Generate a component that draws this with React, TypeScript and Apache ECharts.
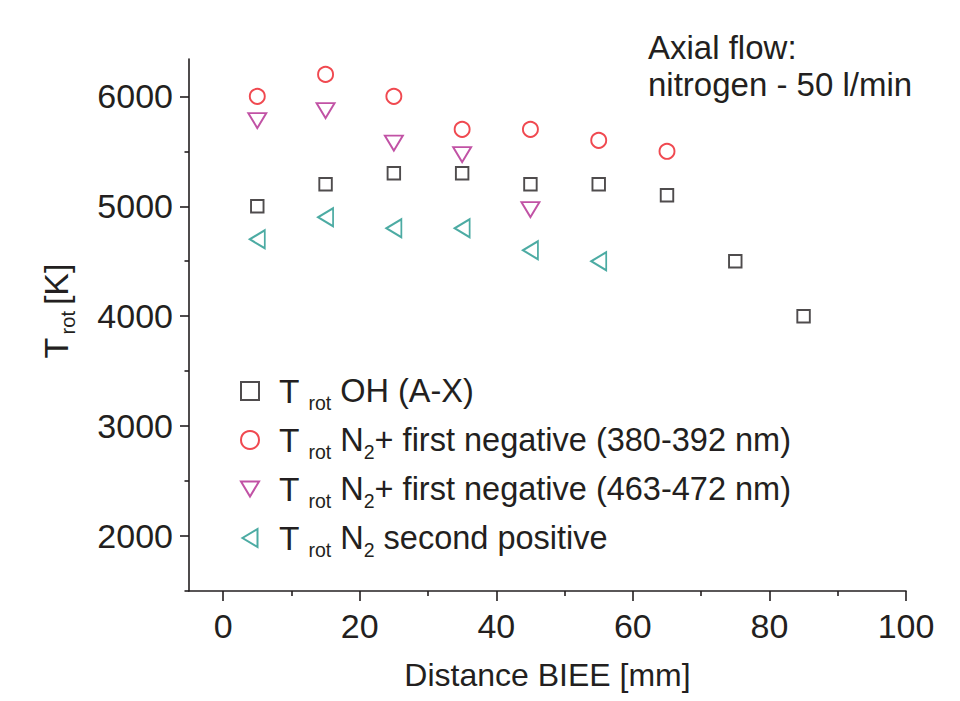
import React, { useEffect, useRef } from "react";
import * as echarts from "echarts";

const xOH = [5, 15, 25, 35, 45, 55, 65, 75, 85];
const yOH = [5000, 5200, 5300, 5300, 5200, 5200, 5100, 4500, 4000];
const xN2p380 = [5, 15, 25, 35, 45, 55, 65];
const yN2p380 = [6000, 6200, 6000, 5700, 5700, 5600, 5500];
const xN2p463 = [5, 15, 25, 35, 45];
const yN2p463 = [5780, 5870, 5575, 5470, 4970];
const xN2sp = [5, 15, 25, 35, 45, 55];
const yN2sp = [4700, 4900, 4800, 4800, 4600, 4500];

const seriesNames = [
  "Trot OH (A-X)",
  "Trot N2+ first negative (380-392 nm)",
  "Trot N2+ first negative (463-472 nm)",
  "Trot N2 second positive",
];
const legendRich: Record<string, string> = {
  [seriesNames[0]]: "{f|T} {s|rot} {t|OH (A-X)}",
  [seriesNames[1]]: "{f|T} {s|rot} {t|N}{s|2}{t|+ first negative (380-392 nm)}",
  [seriesNames[2]]: "{f|T} {s|rot} {t|N}{s|2}{t|+ first negative (463-472 nm)}",
  [seriesNames[3]]: "{f|T} {s|rot} {t|N}{s|2}{t| second positive}",
};

const xMajorTicks = [0, 20, 40, 60, 80, 100];
const xMinorTicks = [10, 30, 50, 70, 90];
const yMajorTicks = [2000, 3000, 4000, 5000, 6000];
const yMinorTicks = [1500, 2500, 3500, 4500, 5500];

const FONT = '"Liberation Sans", Arial, Helvetica, sans-serif';
const INK = "#231f20";

const zip = (xs: number[], ys: number[]) => xs.map((x, i) => [x, ys[i]]);

export default function App() {
  const ref = useRef<HTMLDivElement>(null);
  useEffect(() => {
    if (!ref.current) return;
    const chart = echarts.init(ref.current, null, { renderer: "svg" });
    const richStyles = {
      t: { fontSize: 32.5, lineHeight: 44, fontFamily: FONT, color: INK },
      f: { fontSize: 33.5, lineHeight: 44, fontFamily: FONT, color: INK, padding: [0, 0, 0, 15] },
      s: { fontSize: 19.5, lineHeight: 10, verticalAlign: "bottom", fontFamily: FONT, color: INK },
    };
    const nameRich = {
      t: { fontSize: 34, lineHeight: 44, fontFamily: FONT, color: INK },
      s: { fontSize: 20, lineHeight: 10, verticalAlign: "bottom", fontFamily: FONT, color: INK, padding: [0, 6, 0, 0] },
    };
    const axisLine = { show: true, onZero: false, lineStyle: { color: INK, width: 1.6 } };
    const option: any = {
      animation: false,
      backgroundColor: "#ffffff",
      grid: { left: 189, right: 54, top: 59, bottom: 110, containLabel: false },
      xAxis: [
        {
          type: "value",
          min: -5,
          max: 100,
          position: "bottom",
          axisLine,
          splitLine: { show: false },
          axisTick: { show: true, inside: false, length: 10, customValues: xMajorTicks, lineStyle: { color: INK, width: 1.6 } },
          axisLabel: { customValues: xMajorTicks, margin: 18, fontSize: 34, fontFamily: FONT, color: INK, formatter: (v: number) => String(v) },
          name: "Distance BIEE [mm]",
          nameLocation: "middle",
          nameGap: 68,
          nameTextStyle: { fontSize: 32, fontFamily: FONT, color: INK },
        },
        {
          type: "value",
          min: -5,
          max: 100,
          position: "bottom",
          axisLine: { show: false, onZero: false },
          splitLine: { show: false },
          axisTick: { show: true, inside: false, length: 5, customValues: xMinorTicks, lineStyle: { color: INK, width: 1.6 } },
          axisLabel: { show: false },
        },
      ],
      yAxis: [
        {
          type: "value",
          min: 1500,
          max: 6340,
          position: "left",
          axisLine,
          splitLine: { show: false },
          axisTick: { show: true, inside: false, length: 9, customValues: yMajorTicks, lineStyle: { color: INK, width: 1.6 } },
          axisLabel: { customValues: yMajorTicks, margin: 16, fontSize: 34, fontFamily: FONT, color: INK, formatter: (v: number) => String(v) },
          name: "{t|T} {s|rot}{t|[K]}",
          nameLocation: "middle",
          nameGap: 111,
          nameTextStyle: { rich: nameRich, padding: [0, 0, 0, 28] },
        },
        {
          type: "value",
          min: 1500,
          max: 6340,
          position: "left",
          axisLine: { show: false, onZero: false },
          splitLine: { show: false },
          axisTick: { show: true, inside: false, length: 4.5, customValues: yMinorTicks, lineStyle: { color: INK, width: 1.6 } },
          axisLabel: { show: false },
        },
      ],
      legend: {
        show: true,
        orient: "vertical",
        left: 235,
        top: 369,
        itemWidth: 18,
        itemHeight: 18,
        itemGap: 10,
        selectedMode: false,
        data: [
          { name: seriesNames[0], icon: "path://M0,0L14,0L14,14L0,14Z" },
          { name: seriesNames[1], icon: "circle" },
          { name: seriesNames[2], icon: "path://M0,0L18,0L9,15Z" },
          { name: seriesNames[3], icon: "path://M15,0L15,18L0,9Z" },
        ],
        formatter: (name: string) => legendRich[name] || name,
        textStyle: { fontSize: 32.5, fontFamily: FONT, color: INK, rich: richStyles },
      },
      graphic: [
        {
          type: "text",
          left: 648,
          top: 29,
          style: {
            text: "Axial flow:\nnitrogen - 50 l/min",
            font: `33px ${FONT}`,
            fill: INK,
            lineHeight: 37,
          },
        },
      ],
      series: [
        {
          name: seriesNames[0],
          type: "scatter",
          xAxisIndex: 0,
          yAxisIndex: 0,
          symbol: "rect",
          symbolSize: 12.5,
          itemStyle: { color: "rgba(255,255,255,0)", borderColor: "#231f20", borderWidth: 1.9 },
          data: zip(xOH, yOH),
        },
        {
          name: seriesNames[1],
          type: "scatter",
          xAxisIndex: 0,
          yAxisIndex: 0,
          symbol: "circle",
          symbolSize: 15,
          itemStyle: { color: "rgba(255,255,255,0)", borderColor: "#ec1c24", borderWidth: 1.9 },
          data: zip(xN2p380, yN2p380),
        },
        {
          name: seriesNames[2],
          type: "scatter",
          xAxisIndex: 0,
          yAxisIndex: 0,
          symbol: "triangle",
          symbolRotate: 180,
          symbolSize: [18, 15],
          itemStyle: { color: "rgba(255,255,255,0)", borderColor: "#b1278f", borderWidth: 1.9 },
          data: zip(xN2p463, yN2p463),
        },
        {
          name: seriesNames[3],
          type: "scatter",
          xAxisIndex: 0,
          yAxisIndex: 0,
          symbol: "triangle",
          symbolRotate: 90,
          symbolSize: [18, 15],
          itemStyle: { color: "rgba(255,255,255,0)", borderColor: "#1f968c", borderWidth: 1.9 },
          data: zip(xN2sp, yN2sp),
        },
      ],
    };
    chart.setOption(option);
    return () => chart.dispose();
  }, []);
  return (
    <div
      ref={ref}
      style={{ position: "fixed", left: 0, top: 0, width: 960, height: 701, background: "#fff" }}
    />
  );
}
